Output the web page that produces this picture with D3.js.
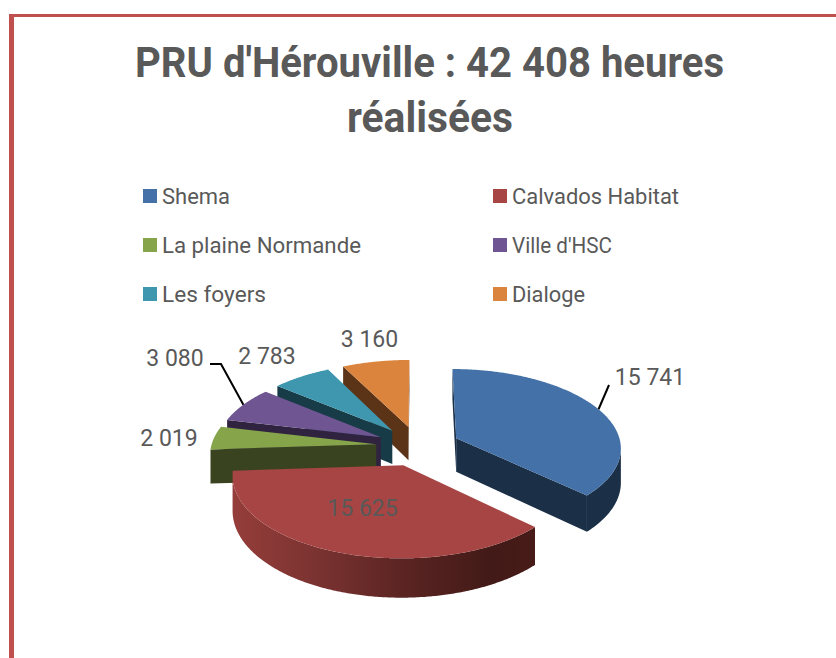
<!DOCTYPE html>
<html><head><meta charset="utf-8">
<script src="https://cdn.jsdelivr.net/npm/d3@7"></script>
<style>html,body{margin:0;padding:0;background:#fff}svg{display:block}text{font-family:Roboto,sans-serif;fill:#595959}</style>
</head><body><svg id="c" width="836" height="658"></svg>
<script>
const titleLines = ["PRU d'Hérouville : 42 408 heures", "réalisées"];
const categories = ["Shema", "Calvados Habitat", "La plaine Normande", "Ville d'HSC", "Les foyers", "Dialoge"];
const values = [15741, 15625, 2019, 3080, 2783, 3160];
const topColors = ["#4472a8", "#a64543", "#86a44a", "#6f5592", "#3e97af", "#db843d"];
const wallColors = ["#1b2f47", "#a64543", "#3a431f", "#2f2340", "#173c47", "#5b3316"];

const W = 836, H = 658;
const svg = d3.select("#c");
// frame
svg.append("rect").attr("x", 9).attr("y", 14).attr("width", W).attr("height", 3).attr("fill", "#c0504d");
svg.append("rect").attr("x", 9).attr("y", 14).attr("width", 5).attr("height", H).attr("fill", "#c0504d");

// title
const titleBoxes = [{x: 429.5, y: 77, w: 589}, {x: 430, y: 132, w: 166}];
titleLines.forEach((t, i) => {
  svg.append("text").attr("x", titleBoxes[i].x).attr("y", titleBoxes[i].y)
    .attr("text-anchor", "middle").attr("font-size", 42).attr("font-weight", 700)
    .attr("textLength", titleBoxes[i].w).attr("lengthAdjust", "spacingAndGlyphs").text(t);
});

// legend
const legX = d3.scalePoint().domain([0, 1]).range([143, 493]);
const legY = d3.scalePoint().domain([0, 1, 2]).range([189, 287]);
const legendWidths = [68, 167, 199, 100, 104, 73];
const legend = svg.append("g").selectAll("g").data(categories).join("g")
  .attr("transform", (d, i) => `translate(${legX(i % 2)},${legY(Math.floor(i / 2))})`);
legend.append("rect").attr("width", 14).attr("height", 14).attr("fill", (d, i) => topColors[i]);
legend.append("text").attr("x", 19).attr("y", 15).attr("font-size", 22)
  .attr("textLength", (d, i) => legendWidths[i]).attr("lengthAdjust", "spacingAndGlyphs").text(d => d);

// projected 3D exploded pie
const cx = 418, cy = 446, R = 165, explode = 42, dist = 1509, tilt = 0.475, depth = 34;
const arcs = d3.pie().sort(null).value(d => d).startAngle(0).endAngle(2 * Math.PI)(values);
function project(a, r, mid, z) {
  const X = explode * Math.sin(mid) + r * Math.sin(a);
  const Y = explode * Math.cos(mid) + r * Math.cos(a);
  const s = dist / (dist + Y);
  return [cx + X * s, cy - Y * s * tilt + z * s];
}
const line = d3.line().curve(d3.curveLinear);
const defs = svg.append("defs");
const grad = defs.append("linearGradient").attr("id", "redWall").attr("gradientUnits", "userSpaceOnUse")
  .attr("x1", 233).attr("x2", 536).attr("y1", 0).attr("y2", 0);
[[0, "#953d3a"], [0.25, "#7d3432"], [0.55, "#5c2523"], [0.85, "#421a17"], [1, "#471b18"]]
  .forEach(([o, c]) => grad.append("stop").attr("offset", o).attr("stop-color", c));

const order = arcs.map((a, i) => i).sort((p, q) => {
  const m = i => (arcs[i].startAngle + arcs[i].endAngle) / 2;
  return Math.cos(m(q)) - Math.cos(m(p));
});
const pie = svg.append("g");
order.forEach(i => {
  const a = arcs[i], mid = (a.startAngle + a.endAngle) / 2;
  const n = Math.max(2, Math.ceil((a.endAngle - a.startAngle) / 0.01));
  const angles = d3.range(n + 1).map(k => a.startAngle + (a.endAngle - a.startAngle) * k / n);
  const wallFill = i === 1 ? "url(#redWall)" : wallColors[i];
  const apex = project(0, 0, mid, 0), apexB = project(0, 0, mid, depth);
  const first = project(a.startAngle, R, mid, 0), last = project(a.endAngle, R, mid, 0);
  const quad = (p, q, pb, qb) => pie.append("path").attr("d", line([p, q, qb, pb]) + "Z").attr("fill", wallFill);
  if (first[0] < apex[0]) quad(apex, first, apexB, project(a.startAngle, R, mid, depth));
  if (apex[0] < last[0]) quad(last, apex, project(a.endAngle, R, mid, depth), apexB);
  // outer wall: only the segments facing the viewer
  const vis = angles.filter((t, k) => {
    const here = project(t, R, mid, 0);
    const prev = k ? project(angles[k - 1], R, mid, 0) : null;
    const next = k < n ? project(angles[k + 1], R, mid, 0) : null;
    return (prev && here[0] < prev[0]) || (next && next[0] < here[0]);
  });
  if (vis.length > 1) {
    const up = vis.map(t => project(t, R, mid, 0));
    const down = vis.map(t => project(t, R, mid, depth)).reverse();
    pie.append("path").attr("d", line(up.concat(down)) + "Z").attr("fill", wallFill);
  }
  const top = [apex].concat(angles.map(t => project(t, R, mid, 0)));
  pie.append("path").attr("d", line(top) + "Z").attr("fill", topColors[i]);
});

// labels
const fmt = d3.formatLocale({decimal: ",", thousands: " ", grouping: [3], currency: ["", ""]}).format(",d");
const labelPos = [[650, 385], [362.5, 516], [169, 446], [175, 366], [267, 364], [369.5, 347]];
svg.append("g").selectAll("text").data(values).join("text")
  .attr("x", (d, i) => labelPos[i][0]).attr("y", (d, i) => labelPos[i][1])
  .attr("text-anchor", "middle").attr("font-size", 23).text(d => fmt(d));

// leader lines (from slice mid-arc to label)
const leaderEnds = {0: [[609, 385]], 3: [[221, 364], [210, 364]]};
Object.keys(leaderEnds).forEach(k => {
  const a = arcs[+k], mid = (a.startAngle + a.endAngle) / 2;
  svg.append("path").attr("d", line([project(mid, R, mid, 0)].concat(leaderEnds[k])))
    .attr("fill", "none").attr("stroke", "#000").attr("stroke-width", 2);
});
</script></body></html>
